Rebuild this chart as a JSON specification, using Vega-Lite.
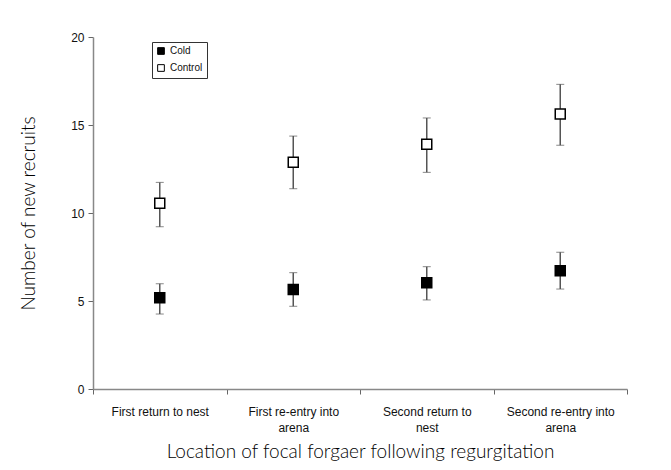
{
  "$schema": "https://vega.github.io/schema/vega-lite/v6.json",
  "width": 534,
  "height": 352,
  "autosize": {"type": "none"},
  "padding": {"left": 93, "top": 37, "right": 44, "bottom": 81},
  "background": "white",
  "config": {
    "view": {"stroke": null},
    "axis": {"grid": false}
  },
  "data": {
    "values": [
      {"location": "First return to nest", "group": "Cold", "mean": 5.19, "low": 4.26, "high": 5.98},
      {"location": "First return to nest", "group": "Control", "mean": 10.55, "low": 9.22, "high": 11.74},
      {"location": "First re-entry into arena", "group": "Cold", "mean": 5.66, "low": 4.7, "high": 6.61},
      {"location": "First re-entry into arena", "group": "Control", "mean": 12.88, "low": 11.38, "high": 14.37},
      {"location": "Second return to nest", "group": "Cold", "mean": 6.04, "low": 5.06, "high": 6.95},
      {"location": "Second return to nest", "group": "Control", "mean": 13.9, "low": 12.31, "high": 15.4},
      {"location": "Second re-entry into arena", "group": "Cold", "mean": 6.72, "low": 5.68, "high": 7.77},
      {"location": "Second re-entry into arena", "group": "Control", "mean": 15.63, "low": 13.85, "high": 17.31}
    ]
  },
  "encoding": {
    "x": {
      "field": "location",
      "type": "nominal",
      "sort": null,
      "scale": {"paddingInner": 0, "paddingOuter": 0},
      "axis": {
        "title": "Location of focal forgaer following regurgitation",
        "titleFont": "Lato",
        "titleFontWeight": 300,
        "titleFontSize": 19,
        "titleColor": "#000",
        "titlePadding": 9,
        "labelAngle": 0,
        "labelFont": "Liberation Sans",
        "labelFontSize": 12,
        "labelColor": "#111",
        "labelLineHeight": 16,
        "labelPadding": 12,
        "labelExpr": "datum.label == 'First re-entry into arena' ? ['First re-entry into','arena'] : datum.label == 'Second return to nest' ? ['Second return to','nest'] : datum.label == 'Second re-entry into arena' ? ['Second re-entry into','arena'] : datum.label",
        "tickBand": "extent",
        "tickSize": 5,
        "tickColor": "#666",
        "domainColor": "#888",
        "domainWidth": 1.5
      }
    }
  },
  "layer": [
    {
      "mark": {"type": "errorbar", "ticks": {"size": 8, "color": "#555", "strokeWidth": 1.5}, "rule": {"color": "#555", "strokeWidth": 1.5}},
      "encoding": {
        "y": {
          "field": "low",
          "type": "quantitative",
          "scale": {"domain": [0, 20]},
          "axis": {
            "title": "Number of new recruits",
            "titleFont": "Lato",
            "titleFontWeight": 300,
            "titleFontSize": 19,
            "titleColor": "#000",
            "titlePadding": 32,
            "values": [0, 5, 10, 15, 20],
            "labelFont": "Liberation Sans",
            "labelFontSize": 12,
            "labelColor": "#111",
            "labelPadding": 4,
            "tickSize": 5,
            "tickColor": "#666",
            "domainColor": "#888",
            "domainWidth": 1.5
          }
        },
        "y2": {"field": "high"},
        "detail": {"field": "group"}
      }
    },
    {
      "mark": {"type": "point", "shape": "square", "size": 100, "filled": false, "stroke": "black", "strokeWidth": 1.5, "opacity": 1},
      "encoding": {
        "y": {"field": "mean", "type": "quantitative"},
        "fill": {
          "field": "group",
          "type": "nominal",
          "scale": {"domain": ["Cold", "Control"], "range": ["black", "white"]},
          "legend": {
            "title": null,
            "orient": "none",
            "legendX": 59,
            "legendY": 5,
            "strokeColor": "#333",
            "fillColor": "white",
            "padding": 4,
            "symbolType": "square",
            "symbolSize": 45,
            "symbolStrokeColor": "black",
            "symbolStrokeWidth": 1,
            "labelFont": "Liberation Sans",
            "labelFontSize": 10,
            "labelColor": "#111",
            "rowPadding": 5
          }
        }
      }
    }
  ]
}
